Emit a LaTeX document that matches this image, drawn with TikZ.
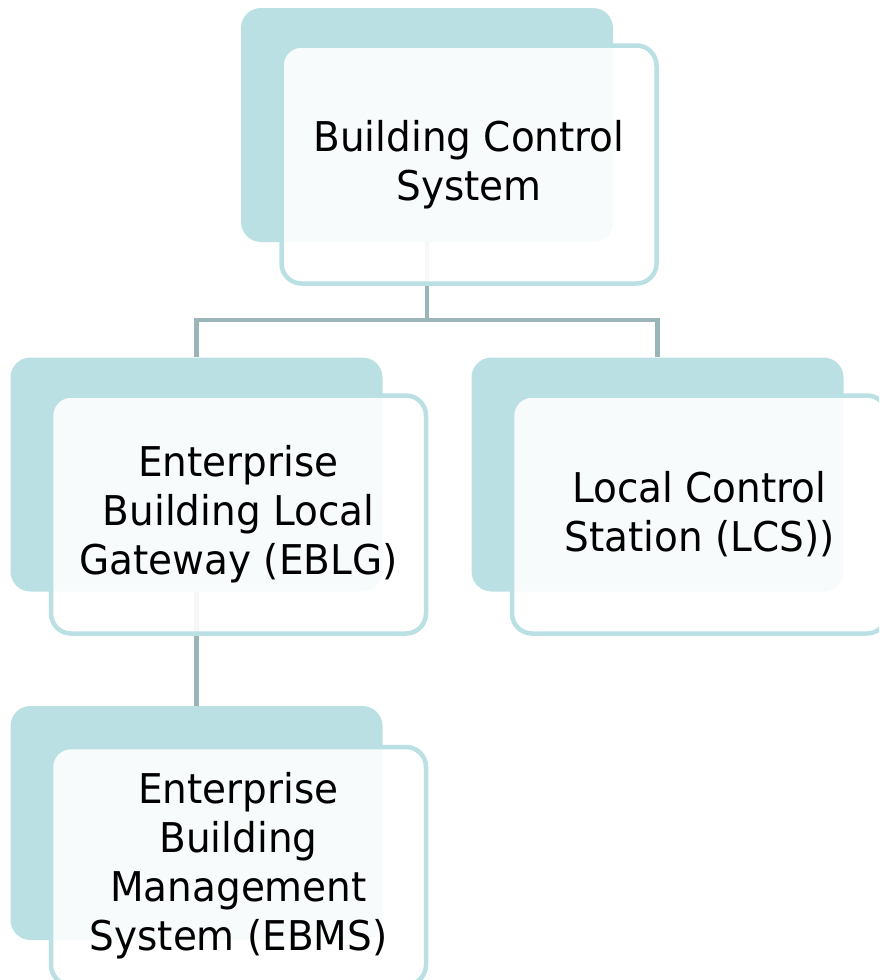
\documentclass[tikz,border=0pt]{standalone}
\usepackage{fontspec}
\setmainfont{DejaVu Sans}[FakeStretch=0.95]
\usetikzlibrary{backgrounds}
\definecolor{backfill}{HTML}{BBE0E3}
\definecolor{frontline}{HTML}{BBE0E3}
\definecolor{connline}{HTML}{9AB5B8}
\begin{document}
\begin{tikzpicture}[x=1pt,y=-1pt,
  backbox/.style={rectangle, rounded corners=20pt, fill=backfill, minimum width=372pt, minimum height=234pt, inner sep=0pt},
  frontbox/.style={rectangle, rounded corners=20pt, draw=frontline, line width=4.5pt, fill=white, fill opacity=0.9, text opacity=1, minimum width=375pt, minimum height=238pt, inner sep=0pt, align=center, font=\fontsize{41}{49}\selectfont},
  conn/.style={draw=connline, line width=4.5pt}]
\useasboundingbox (0,0) rectangle (879,980);
\clip (0,0) rectangle (879,980);
% back boxes
\node[backbox] (b1) at (427,125) {};
\node[backbox] (b2) at (196.5,474.5) {};
\node[backbox] (b3) at (657.5,474.5) {};
\node[backbox] (b4) at (196.5,823) {};
% front boxes
\node[frontbox] (f1) at (469,164.5) {Building Control\\System};
\node[frontbox] (f2) at (238.5,514.5) {Enterprise\\Building Local\\Gateway (EBLG)};
\node[frontbox] (f3) at (699.5,514.5) {Local Control\\Station (LCS))};
\node[frontbox] (f4) at (238.5,866) {Enterprise\\Building\\Management\\System (EBMS)};
% connectors
\begin{scope}[on background layer]
\coordinate (j1) at (427,320);
\draw[conn] (b1.south) -- (j1) -| (b2.north);
\draw[conn] (j1) -| (b3.north);
\draw[conn] (b2.south) -- (b4.north);
\end{scope}
\end{tikzpicture}
\end{document}
